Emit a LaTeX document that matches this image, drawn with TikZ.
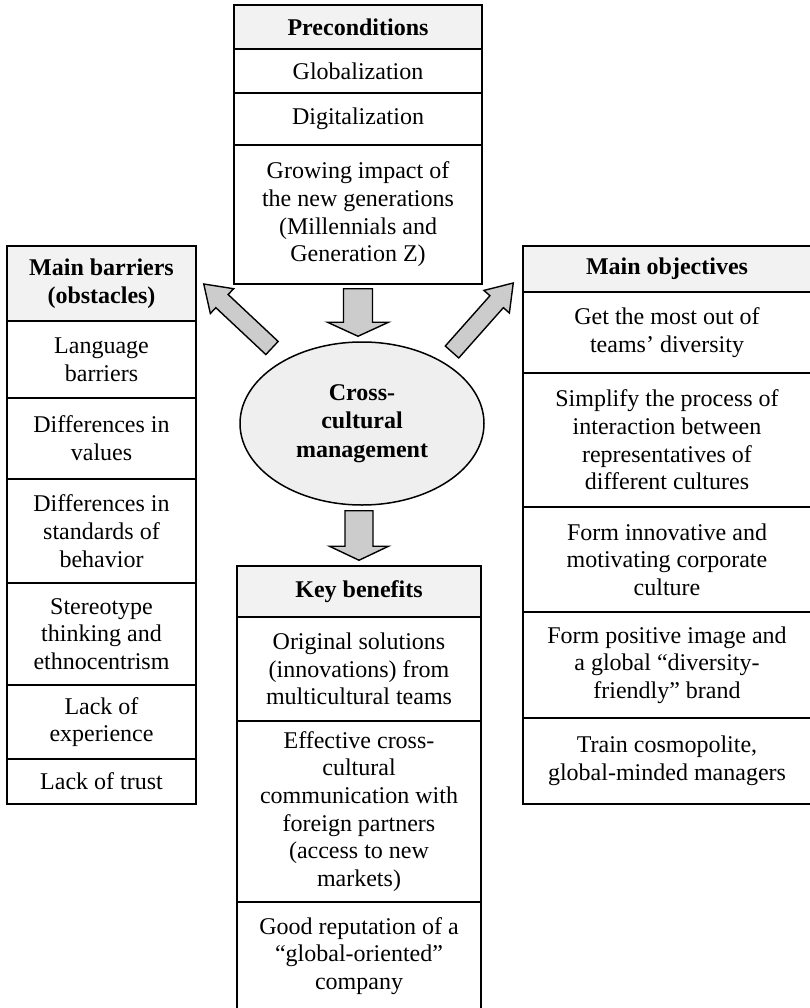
\documentclass[tikz,border=0pt]{standalone}
\usepackage{fontspec}
\setmainfont{Liberation Serif}
\usetikzlibrary{shapes.geometric,calc}

\definecolor{headfill}{HTML}{F2F2F2}
\definecolor{ovalfill}{HTML}{EFEFEF}
\definecolor{arrowfill}{HTML}{CCCCCC}

\tikzset{
  cell/.style={draw, line width=1.5pt, inner sep=0pt, align=center,
    font=\fontsize{24}{27.7}\selectfont},
  headcell/.style={cell, fill=headfill, font=\fontsize{24}{27.7}\selectfont\bfseries},
  precol/.style={minimum width=248pt},
  barcol/.style={minimum width=189pt},
  objcol/.style={minimum width=288pt},
  bencol/.style={minimum width=244pt},
  fatarrow/.style={draw, line width=1.4pt, fill=arrowfill, line join=miter},
}

% block arrow: tail, tip, shaft half width, head half width, head length
\newcommand\blockarrow[5]{%
  \coordinate (bahead) at ($(#2)!#5!(#1)$);
  \draw[fatarrow]
    ($(#1)!#3!90:(#2)$) -- ($(bahead)!#3!90:(#2)$) -- ($(bahead)!#4!90:(#2)$)
    -- (#2)
    -- ($(bahead)!#4!-90:(#2)$) -- ($(bahead)!#3!-90:(#2)$) -- ($(#1)!#3!-90:(#2)$)
    -- cycle;
}

\begin{document}
\begin{tikzpicture}[x=1pt, y=-1pt]
\useasboundingbox (0,0) rectangle (810,1008);

% Preconditions
\node[headcell, precol, minimum height=44pt] (pre0) at (358,27) {Preconditions};
\node[cell, precol, minimum height=44pt] (pre1) at (358,71) {Globalization};
\node[cell, precol, minimum height=52pt] (pre2) at (358,119) {Digitalization};
\node[cell, precol, minimum height=139pt] (pre3) at (358,214.5)
  {Growing impact of\\the new generations\\(Millennials and\\Generation Z)};

% Main barriers
\node[headcell, barcol, minimum height=75pt] (bar0) at (101.5,283.5) {Main barriers\\(obstacles)};
\node[cell, barcol, minimum height=77pt] (bar1) at (101.5,359.5) {Language\\barriers};
\node[cell, barcol, minimum height=81pt] (bar2) at (101.5,438.5) {Differences in\\values};
\node[cell, barcol, minimum height=104pt] (bar3) at (101.5,531) {Differences in\\standards of\\behavior};
\node[cell, barcol, minimum height=102pt] (bar4) at (101.5,634) {Stereotype\\thinking and\\ethnocentrism};
\node[cell, barcol, minimum height=74pt] (bar5) at (101.5,722) {Lack of\\experience};
\node[cell, barcol, minimum height=45pt] (bar6) at (101.5,781.5) {Lack of trust};

% Main objectives
\node[headcell, objcol, minimum height=46pt] (obj0) at (667,269) {Main objectives};
\node[cell, objcol, minimum height=81pt] (obj1) at (667,332.5) {Get the most out of\\teams’ diversity};
\node[cell, objcol, minimum height=134pt] (obj2) at (667,440)
  {Simplify the process of\\interaction between\\representatives of\\different cultures};
\node[cell, objcol, minimum height=105pt] (obj3) at (667,559.5)
  {Form innovative and\\motivating corporate\\culture};
\node[cell, objcol, minimum height=106pt] (obj4) at (667,665)
  {Form positive image and\\a global “diversity-\\friendly” brand};
\node[cell, objcol, minimum height=86pt] (obj5) at (667,761)
  {Train cosmopolite,\\global-minded managers};

% Key benefits
\node[headcell, bencol, minimum height=51pt] (ben0) at (359,591.5) {Key benefits};
\node[cell, bencol, minimum height=104pt] (ben1) at (359,669)
  {Original solutions\\(innovations) from\\multicultural teams};
\node[cell, bencol, minimum height=181pt] (ben2) at (359,811.5)
  {Effective cross-\\cultural\\communication with\\foreign partners\\(access to new\\markets)};
\node[cell, bencol, minimum height=108pt] (ben3) at (359,956)
  {Good reputation of a\\“global-oriented”\\company};

% Centre
\node[ellipse, draw, line width=1.5pt, fill=ovalfill, minimum width=244pt,
  minimum height=163pt, inner sep=0pt, align=center,
  font=\fontsize{24}{28.3}\selectfont\bfseries] (cm) at (362,423.5)
  {Cross-\\cultural\\management};

% Arrow end points
\coordinate (inTail) at ($(pre3.south)+(0,4)$);
\coordinate (inTip) at ($(cm.north)+(-4,-5)$);
\coordinate (outTail) at ($(cm.south)+(-3,5)$);
\coordinate (outTip) at ($(ben0.north)+(0,-5)$);
\coordinate (leftTail) at ($(cm)+(-90,-75.5)$);
\coordinate (leftTip) at ($(bar0.east)+(7,0.5)$);
\coordinate (rightTail) at ($(cm)+(90,-71.5)$);
\coordinate (rightTip) at ($(obj0.west)+(-9,14)$);

\blockarrow{inTail}{inTip}{14.5pt}{30.5pt}{14pt}
\blockarrow{outTail}{outTip}{14pt}{29.5pt}{14pt}
\blockarrow{leftTail}{leftTip}{9pt}{17pt}{25pt}
\blockarrow{rightTail}{rightTip}{9pt}{17pt}{25pt}

\end{tikzpicture}
\end{document}
